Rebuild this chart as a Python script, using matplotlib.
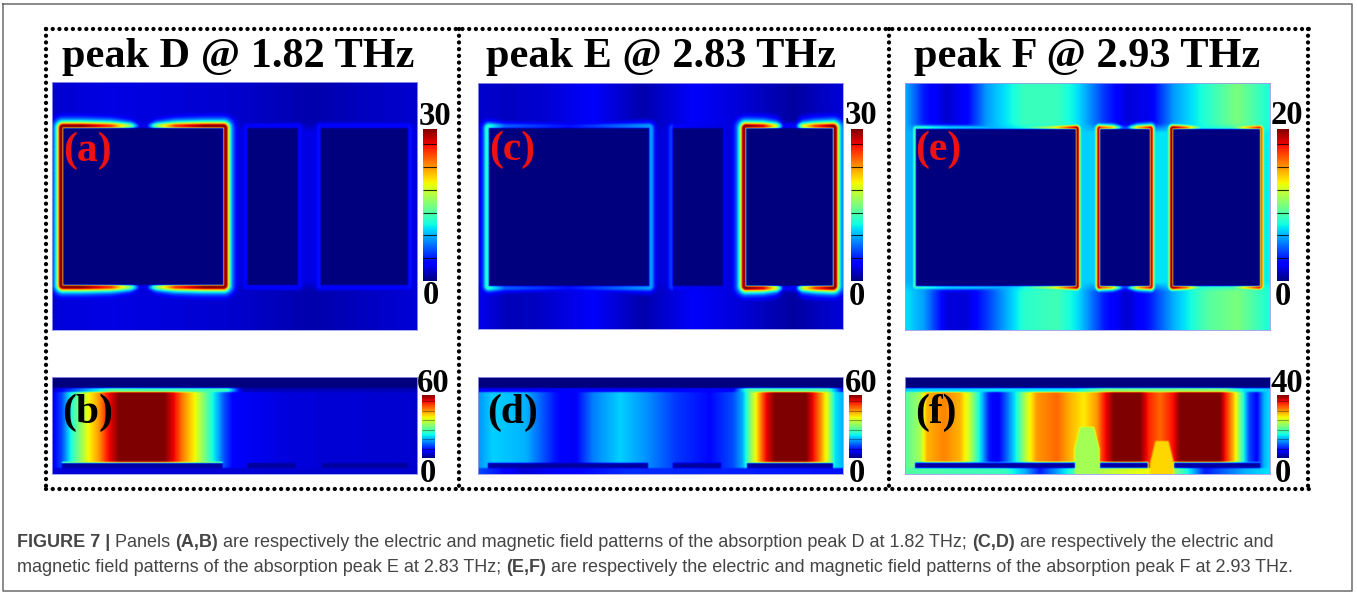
import numpy as np
import matplotlib
matplotlib.use("Agg")
import matplotlib.pyplot as plt

W_PX, H_PX = 1357, 592

# --- text ---
titles = ["peak D @ 1.82 THz", "peak E @ 2.83 THz", "peak F @ 2.93 THz"]
panel_tags = ["(a)", "(b)", "(c)", "(d)", "(e)", "(f)"]
cbar_max = ["30", "60", "30", "60", "20", "40"]
cbar_min = ["0", "0", "0", "0", "0", "0"]
caption_1 = [("FIGURE 7 | ", True), ("Panels ", False), ("(A,B)", True),
             (" are respectively the electric and magnetic field patterns of the absorption peak D at 1.82 THz; ", False),
             ("(C,D)", True), (" are respectively the electric and", False)]
caption_2 = [("magnetic field patterns of the absorption peak E at 2.83 THz; ", False), ("(E,F)", True),
             (" are respectively the electric and magnetic field patterns of the absorption peak F at 2.93 THz.", False)]

# colour bar divisions, as a fraction of the range
cbar_ticks = [0.15, 0.30, 0.45, 0.60, 0.75, 0.90]

# --- field maps, all values are fractions of the colour bar range ---
# geometry of the three metal patches, in pixels of the panel
patch_x = [(11, 171), (195, 245), (268, 355)]
patch_y = (46, 203)
strip_x = [(10, 170), (195, 243), (269, 355)]

# rim falloff: distance from the metal edge -> share of the peak value
rim_dist = [0, 0.8, 1.5, 3.0, 4.0, 5.0, 7.0, 9.5, 13, 20]
rim_share = [0.72, 0.95, 1.0, 1.0, 0.85, 0.62, 0.38, 0.22, 0.12, 0.0]

# electric maps: x knots and values above, beside and below the patches
a_x = [0, 60, 120, 180, 260, 320, 365]
a_top = [0.07, 0.09, 0.08, 0.07, 0.04, 0.06, 0.07]
a_mid = [0.08, 0.08, 0.08, 0.08, 0.09, 0.09, 0.08]
a_bot = [0.08, 0.09, 0.08, 0.07, 0.04, 0.06, 0.08]

c_x = [0, 30, 60, 115, 165, 215, 260, 315, 365]
c_top = [0.07, 0.06, 0.07, 0.11, 0.04, 0.11, 0.08, 0.03, 0.08]
c_mid = [0.14, 0.10, 0.08, 0.08, 0.08, 0.08, 0.08, 0.08, 0.10]
c_bot = [0.10, 0.05, 0.06, 0.11, 0.04, 0.11, 0.08, 0.03, 0.08]

e_x = [0, 19, 42, 62, 82, 119, 152, 172, 199, 222, 245, 269, 302, 332, 365]
e_top = [0.30, 0.15, 0.07, 0.12, 0.28, 0.42, 0.42, 0.35, 0.18, 0.08, 0.10, 0.28, 0.40, 0.50, 0.38]
e_mid = [0.30, 0.30, 0.30, 0.30, 0.30, 0.33, 0.33, 0.33, 0.33, 0.33, 0.35, 0.35, 0.35, 0.35, 0.36]
e_bot = [0.35, 0.28, 0.08, 0.08, 0.18, 0.40, 0.43, 0.35, 0.15, 0.07, 0.15, 0.30, 0.45, 0.50, 0.38]

# rim peaks per patch: left, right, knots along the top/bottom edge, values there
half_edge = [0, 0.12, 0.30, 0.42, 0.48, 0.52, 0.58, 0.70, 0.88, 1]
a_rims = [(1.0, 1.0, half_edge, [1.0, 1.0, 0.85, 0.50, 0.10, 0.10, 0.50, 0.85, 1.0, 1.0]),
          (0.13, 0.13, [0, 1], [0.12, 0.12]),
          (0.14, 0.14, [0, 1], [0.13, 0.13])]
c_rims = [(0.40, 0.28, [0, 0.1, 0.5, 1], [0.40, 0.22, 0.14, 0.28]),
          (0.18, 0.10, [0, 1], [0.12, 0.09]),
          (1.0, 1.0, [0, 0.2, 0.35, 0.43, 0.57, 0.65, 0.8, 1], [1.0, 0.92, 0.60, 0.12, 0.12, 0.60, 0.85, 1.0])]
e_rims = [(0.42, 1.0, [0, 0.2, 0.6, 0.85, 1], [0.42, 0.33, 0.30, 0.60, 0.95]),
          (0.95, 0.95, [0, 0.25, 0.5, 0.75, 1], [0.85, 0.70, 0.10, 0.70, 0.90]),
          (1.0, 0.80, [0, 0.15, 0.4, 0.6, 0.85, 1], [1.0, 0.80, 0.20, 0.30, 0.70, 0.90])]

# magnetic maps: profile through the substrate
b_x = [0, 10, 20, 30, 37, 47, 55, 67, 112, 122, 130, 142, 152, 162, 172, 182, 240, 365]
b_main = [0.10, 0.20, 0.40, 0.55, 0.65, 0.75, 0.88, 1.0, 1.0, 0.90, 0.78, 0.65, 0.50, 0.35, 0.20, 0.11, 0.08, 0.07]

d_x = [0, 15, 48, 78, 95, 115, 142, 168, 198, 232, 255, 265, 272, 278, 283, 288, 297, 328, 335, 343, 350, 357, 365]
d_main = [0.27, 0.33, 0.30, 0.14, 0.10, 0.25, 0.33, 0.27, 0.18, 0.13, 0.20, 0.30, 0.50, 0.65, 0.78, 0.90, 1.0, 1.0,
          0.90, 0.75, 0.60, 0.35, 0.30]

f_x = [0, 15, 22, 39, 55, 64, 74, 84, 92, 100, 110, 122, 132, 152, 165, 179, 192, 199, 209, 235, 244, 255, 269, 275,
       315, 322, 329, 335, 344, 352, 359, 365]
f_main = [0.45, 0.55, 0.72, 0.77, 0.72, 0.60, 0.38, 0.15, 0.10, 0.20, 0.35, 0.60, 0.75, 0.80, 0.72, 0.66, 0.75, 0.88,
          1.0, 1.0, 0.87, 0.80, 0.90, 1.0, 1.0, 0.85, 0.70, 0.50, 0.20, 0.12, 0.30, 0.35]

# thin layer under the top band, and the layer under the strips
b_cap_x = [0, 10, 60, 175, 190, 365]
b_cap = [0.05, 0.13, 0.45, 0.42, 0.05, 0.05]
b_low_x = [0, 365]
b_low = [0.08, 0.07]
d_cap_x = [0, 255, 270, 350, 365]
d_cap = [0.11, 0.11, 0.45, 0.45, 0.12]
d_low_x = [0, 45, 150, 365]
d_low = [0.20, 0.08, 0.17, 0.14]
f_cap_x = [0, 170, 200, 320, 340, 365]
f_cap = [0.33, 0.36, 0.50, 0.52, 0.34, 0.33]
f_low_x = [0, 100, 120, 135, 160, 185, 255, 285, 300, 340, 365]
f_low = [0.45, 0.42, 0.30, 0.15, 0.35, 0.55, 0.66, 0.35, 0.15, 0.30, 0.35]

# brighter columns in the slots of panel f: centre, half width, top of the column, value
f_slots = [(182, 12.5, 50, 0.55), (257, 12, 64, 0.68)]
# bright line on the strips: value per strip
b_line = [0.62, 0, 0]
d_line = [0, 0, 0.62]
f_line = [0.33, 0.33, 0.33]

# --- layout in pixels of the figure ---
panel_boxes = [(52, 82, 417, 330), (52, 377, 417, 474), (478, 83, 843, 329), (478, 377, 843, 474),
               (905, 83, 1270, 330), (905, 377, 1270, 474)]
cbar_boxes = [(423, 129, 437, 281), (422, 395, 435, 458), (851, 129, 863, 281), (849, 395, 862, 458),
              (1277, 129, 1289, 281), (1277, 395, 1289, 458)]
title_pos = [(238, 67), (660.5, 67), (1087.5, 67)]
tag_pos = [(87, 161), (88, 423), (512, 160), (513, 423), (938, 160), (936, 423)]
tag_colors = ["#ee1111", "black", "#ee1111", "black", "#ee1111", "black"]
max_pos = [(435, 125), (433, 392), (861, 124), (861, 392), (1287, 124), (1287, 392)]
min_pos = [(431, 304), (428, 482), (857, 305), (857, 482), (1283, 305), (1283, 482)]


def add_axes_px(fig, box, **kw):
    x0, y0, x1, y1 = box
    return fig.add_axes([x0 / W_PX, 1 - y1 / H_PX, (x1 - x0) / W_PX, (y1 - y0) / H_PX], **kw)


def soften(field, passes=2):
    # the reference is a resampled raster, so nothing in it has a hard edge
    kernel = np.array([1, 2, 1]) / 4
    for _ in range(passes):
        field = np.apply_along_axis(lambda r: np.convolve(r, kernel, mode="same"), 1, field)
        field = np.apply_along_axis(lambda c: np.convolve(c, kernel, mode="same"), 0, field)
    return np.pad(field[2:-2, 2:-2], 2, mode="edge")


def electric_map(width, height, knots, top, mid, bot, rims, glow=1.0):
    yy, xx = np.mgrid[0.25:height:0.5, 0.25:width:0.5]
    w_top = np.interp(yy, [40, 50], [1, 0])
    w_bot = np.interp(yy, [199, 209], [0, 1])
    field = (w_top * np.interp(xx, knots, top) + w_bot * np.interp(xx, knots, bot)
             + (1 - w_top - w_bot) * np.interp(xx, knots, mid))
    y0, y1 = patch_y
    for (x0, x1), (left, right, edge_t, edge_v) in zip(patch_x, rims):
        dy = np.maximum(np.maximum(y0 - yy, yy - y1), 0)
        dx = np.maximum(np.maximum(x0 - xx, xx - x1), 0)
        dist = np.hypot(dx, dy) / glow
        share = np.interp(dist, rim_dist, rim_share)
        t = np.clip((xx - x0) / (x1 - x0), 0, 1)
        peak = np.where(xx < x0, left, np.where(xx > x1, right, np.interp(t, edge_t, edge_v)))
        field = np.maximum(field, peak * share)
        field[(xx >= x0) & (xx <= x1) & (yy >= y0) & (yy <= y1)] = 0
    return soften(field, 1)


def magnetic_map(width, height, knots, main, cap_x, cap, low_x, low, line, slots=()):
    yy, xx = np.mgrid[0.25:height:0.5, 0.25:width:0.5]
    field = np.interp(xx, knots, main)
    for xc, half, y_top, value in slots:
        grow = 0.55 + 0.45 * np.clip((yy - y_top) / 22, 0, 1)
        cover = np.clip((half * grow - np.abs(xx - xc)) / 1.5 + 0.5, 0, 1) * (yy > y_top)
        field = field * (1 - cover) + value * cover
    field = np.where(yy > 91, np.interp(xx, low_x, low), field)
    for xc, half, y_top, value in slots:
        field = np.where((yy > 91) & (np.abs(xx - xc) < half), value, field)
    for (x0, x1), value in zip(strip_x, line):
        inside = (xx >= x0) & (xx <= x1)
        if value > 0:
            field[inside & (yy >= 84.8) & (yy < 86.3)] = value
        field[inside & (yy >= 86) & (yy <= 91)] = 0.03
    field = np.where((yy >= 11) & (yy < 15), np.interp(xx, cap_x, cap), field)
    field = np.where(yy < 11, 0.0, field)
    return soften(field, 2)


def text_width(fig, text, bold, size):
    # trailing spaces are not measured, so put a bar behind the run
    renderer = fig.canvas.get_renderer()
    weight = "bold" if bold else "normal"
    t1 = fig.text(0, 0, text + "|", fontsize=size, weight=weight, family="Liberation Sans")
    t2 = fig.text(0, 0, "|", fontsize=size, weight=weight, family="Liberation Sans")
    width = t1.get_window_extent(renderer).width - t2.get_window_extent(renderer).width
    t1.remove()
    t2.remove()
    return width


def draw_caption_line(fig, ax, runs, x, y, size):
    for text, bold in runs:
        ax.text(x, y, text, fontsize=size, weight="bold" if bold else "normal", family="Liberation Sans",
                color="#454545", va="baseline", ha="left")
        x += text_width(fig, text, bold, size)


fields = [
    electric_map(365, 248, a_x, a_top, a_mid, a_bot, a_rims),
    magnetic_map(365, 97, b_x, b_main, b_cap_x, b_cap, b_low_x, b_low, b_line),
    electric_map(365, 246, c_x, c_top, c_mid, c_bot, c_rims),
    magnetic_map(365, 97, d_x, d_main, d_cap_x, d_cap, d_low_x, d_low, d_line),
    electric_map(365, 247, e_x, e_top, e_mid, e_bot, e_rims, glow=0.7),
    magnetic_map(365, 97, f_x, f_main, f_cap_x, f_cap, f_low_x, f_low, f_line, f_slots),
]

fig = plt.figure(figsize=(W_PX / 100, H_PX / 100), dpi=100, facecolor="white")

for box, field in zip(panel_boxes, fields):
    ax = add_axes_px(fig, box)
    ax.imshow(field, cmap="jet", vmin=0, vmax=1, aspect="auto", interpolation="bilinear")
    ax.set_xticks([])
    ax.set_yticks([])
    for spine in ax.spines.values():
        spine.set_color("#9a9ae8")
        spine.set_linewidth(0.6)

ramp = np.linspace(1, 0, 256)[:, None]
for i, box in enumerate(cbar_boxes):
    ax = add_axes_px(fig, box)
    ax.imshow(ramp, cmap="jet", vmin=0, vmax=1, aspect="auto", extent=[0, 1, 0, 1])
    ax.hlines(cbar_ticks, 0, 1, color="black", lw=0.8, alpha=0.8 if i % 2 == 0 else 0.35)
    ax.axis("off")

# overlay in figure pixels for the frames and all the text
over = fig.add_axes([0, 0, 1, 1], zorder=10)
over.patch.set_alpha(0)
over.set_xlim(0, W_PX)
over.set_ylim(H_PX, 0)
over.axis("off")

# grey box round the figure and its caption
over.plot([3, 1352, 1352, 3, 3], [4, 4, 591, 591, 4], color="#6b6b6b", lw=1.1)

# dotted frames
dots = dict(color="black", lw=3.1, solid_capstyle="round", dash_capstyle="round", linestyle=(0, (0.01, 1.55)))
over.plot([46, 1309], [29, 29], **dots)
over.plot([46, 1309], [489, 489], **dots)
for x in [46, 459, 889, 1308]:
    over.plot([x, x], [29, 489], **dots)

serif = dict(family="Liberation Serif", weight="bold", va="baseline", ha="center")
for text, (x, y) in zip(titles, title_pos):
    over.text(x, y, text, fontsize=30.4, **serif)
for text, (x, y), color in zip(panel_tags, tag_pos, tag_colors):
    over.text(x, y, text, fontsize=30, color=color, **serif)
for text, (x, y) in zip(cbar_max, max_pos):
    over.text(x, y, text, fontsize=23.5, **serif)
for text, (x, y) in zip(cbar_min, min_pos):
    over.text(x, y, text, fontsize=23.5, **serif)

draw_caption_line(fig, over, caption_1, 17, 547, 12.95)
draw_caption_line(fig, over, caption_2, 17, 572, 12.95)

fig.savefig("out.png", dpi=100, facecolor="white")
